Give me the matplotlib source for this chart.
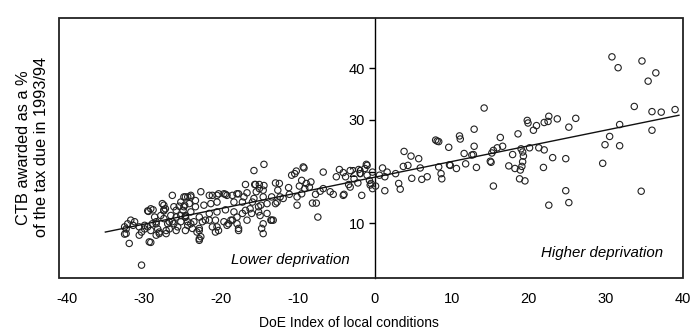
import matplotlib.pyplot as plt
from matplotlib.patches import Rectangle

plt.rcParams['font.family'] = ['Liberation Sans', 'DejaVu Sans']
plt.rcParams['axes.unicode_minus'] = False

# DoE index (x) and CTB as % of tax due (y)
doe_index = [
    # higher deprivation side
    30.8, 31.6, 34.7, 35.5, 36.5, 33.7, 36.0, 37.2, 39.0, 36.0, 31.8, 30.5, 29.9, 31.8, 29.6, 34.6,
    26.1, 23.7, 22.6, 22.5, 22.0, 21.0, 20.6, 19.8, 19.9, 18.6, 14.2, 12.9, 11.0, 11.1, 8.1, 8.3,
    9.6, 11.6, 12.6, 12.9, 12.8, 11.8, 10.6, 9.8, 13.2, 15.1, 15.4, 15.2, 16.3, 16.6, 15.9, 17.9,
    19.0, 19.2, 19.3, 19.2, 17.4, 18.2, 18.9, 19.1, 18.8, 19.5, 15.4, 20.1, 21.3, 22.0, 23.1, 21.9,
    24.8, 24.8, 25.2, 22.6, 25.2, 15.0,
    3.8, 4.7, 5.7, 4.3, 3.7, 5.9, 6.8, 6.1, 4.8, 3.1, 3.3, 2.7, 1.3, 1.0, 1.6, 0.6, 1.3, 0.1, -0.5,
    8.3, 8.6, 8.7, 7.9, 9.7,
    # around zero and just below
    -1.0, -1.7, -9.2, -10.4, -10.2, -6.7, -4.6, -4.1, -3.2, -2.1, -1.9, -5.0, -3.8, -2.7, -1.3, -1.0,
    -0.7, -0.3, -0.3, -0.6, -3.2, -3.4, -4.0, -5.4, -5.8, -6.7, -7.1, -7.7, -7.6, -8.1, -7.4, -8.9,
    -9.1, -8.5, -9.5, -9.8, -8.3, -10.1, -10.1, -9.5, -11.2, -11.1, -12.6, -12.3, -11.9, -12.7, -12.4,
    -13.2, -14.4, -15.7, -9.3, -10.8, -1.1, -2.2, -4.1,
    # dense cluster, -25 to -13
    -16.8, -15.6, -15.0, -12.9, -15.0, -14.5, -15.4, -16.6, -17.9, -17.0, -15.7, -14.5, -13.4, -12.9,
    -14.0, -14.8, -15.9, -17.2, -18.3, -19.2, -19.6, -20.5, -21.5, -22.6, -23.9, -24.8, -20.5, -21.3,
    -22.2, -23.3, -24.1, -24.8, -23.9, -24.6, -22.8, -21.5, -20.5, -19.4, -18.3, -17.2, -16.2, -15.1,
    -14.0, -14.9, -13.5, -16.6, -17.9, -18.7, -19.6, -20.7, -21.5, -22.4, -23.5, -24.3, -22.8, -23.1,
    -22.8, -20.5, -20.7, -19.2, -17.9, -17.7, -14.7, -14.5, -14.5, -23.7, -24.6,
    # lower left, -33 to -24
    -26.3, -24.3, -29.4, -29.1, -27.4, -27.2, -27.4, -26.1, -25.8, -25.4, -24.7, -24.9, -26.5, -25.8,
    -25.2, -24.6, -26.1, -25.2, -24.3, -26.7, -27.4, -27.8, -28.4, -28.6, -28.9, -28.2, -28.0, -28.4,
    -29.5, -29.1, -29.9, -29.9, -30.3, -29.3, -30.6, -31.7, -32.1, -31.4, -32.3, -31.2, -32.5, -31.9,
    -30.3, -26.9, -26.7, -27.1, -25.6,
    # extra reads across the cluster
    -29.5, -28.8, -27.6, -27.4, -25.2, -24.6, -23.9, -23.3, -21.1, -20.3, -19.4, -18.5, -17.7, -15.5,
    -14.4, -32.3, -32.5, -30.6, -28.4, -28.0, -27.1, -26.3, -25.8, -24.6, -23.9, -22.8, -22.6, -22.8,
    -22.0, -21.1, -20.3, -19.0, -18.5, -17.7, -16.0, -15.1, -16.8, -13.4, -29.1,
]
ctb_pct = [
    42.2, 40.1, 41.4, 37.5, 39.1, 32.6, 31.6, 31.5, 32.0, 28.0, 29.1, 26.8, 25.2, 25.0, 21.6, 16.2,
    30.3, 30.2, 30.7, 29.7, 29.5, 28.9, 28.0, 29.9, 29.4, 27.3, 32.3, 28.2, 26.9, 26.3, 25.9, 25.8,
    24.7, 23.5, 23.2, 24.9, 23.3, 21.5, 20.6, 21.2, 20.8, 21.8, 24.1, 23.6, 26.6, 24.9, 24.6, 23.3,
    24.4, 23.8, 23.0, 21.9, 21.1, 20.6, 20.3, 21.0, 18.6, 18.2, 17.2, 24.6, 24.6, 24.2, 22.7, 20.8,
    22.5, 16.3, 14.0, 13.5, 28.6, 22.0,
    23.9, 23.0, 22.5, 21.2, 21.0, 20.7, 19.0, 18.5, 18.7, 17.7, 16.6, 19.6, 16.3, 20.7, 19.9, 19.3, 19.0, 17.2, 17.7,
    20.9, 19.6, 18.6, 26.1, 21.3,
    21.2, 15.4, 20.7, 19.6, 20.1, 19.9, 20.4, 19.8, 20.2, 20.4, 19.6, 19.0, 19.0, 18.6, 20.6, 19.3,
    18.3, 19.9, 16.7, 17.4, 17.0, 17.5, 15.6, 15.6, 16.1, 16.7, 16.2, 15.6, 13.9, 13.9, 11.2, 17.7,
    16.7, 17.0, 18.3, 17.2, 18.0, 15.1, 13.5, 15.7, 16.9, 15.6, 16.4, 15.1, 14.8, 14.1, 17.7,
    10.6, 21.4, 20.2, 20.9, 19.3, 21.4, 17.8, 15.4,
    17.5, 17.5, 17.5, 17.8, 16.7, 16.4, 16.1, 15.9, 15.7, 15.1, 14.8, 15.1, 15.1, 13.8,
    13.8, 13.5, 14.1, 14.1, 14.1, 15.4, 15.7, 15.4, 15.4, 16.1, 15.4, 15.1, 14.1, 13.8,
    13.5, 13.2, 13.8, 13.2, 12.2, 11.2, 11.2, 11.9, 12.2, 12.6, 12.2, 11.9, 12.8, 12.2,
    11.9, 11.5, 10.6, 10.6, 11.2, 10.6, 10.3, 10.6, 10.6, 10.3, 10.3, 9.6, 9.0, 8.3,
    7.0, 9.3, 8.3, 9.6, 9.9, 9.0, 9.0, 8.0, 9.9, 9.0, 8.6,
    15.4, 15.1, 12.3, 12.8, 13.5, 12.8, 12.4, 13.2, 12.5, 13.3, 13.5, 12.5, 11.5, 11.2,
    11.5, 11.5, 9.9, 10.3, 10.3, 10.3, 10.9, 11.5, 10.3, 11.2, 9.9, 8.9, 8.3, 7.7,
    9.3, 8.6, 8.9, 9.6, 8.3, 6.4, 7.7, 10.6, 9.9, 9.6, 8.9, 10.3, 7.9, 6.1,
    1.9, 9.9, 8.9, 8.0, 9.3,
    12.4, 12.6, 13.8, 12.6, 14.1, 15.1, 15.1, 14.4, 15.4, 15.7, 15.6, 15.4, 15.7, 17.5,
    17.3, 8.0, 9.3, 9.3, 9.9, 8.0, 8.6, 10.3, 8.6, 11.2, 9.9, 8.6, 7.4, 6.7,
    10.6, 9.3, 8.6, 9.9, 10.6, 8.6, 11.9, 13.2, 12.5, 10.6, 6.3,
]

# fitted line as printed: end points
fit_x = [-35, 39.5]
fit_y = [8.3, 30.9]

x_ticks = [-40, -30, -20, -10, 0, 10, 20, 30, 40]
y_ticks = [10, 20, 30, 40]

fig = plt.figure(figsize=(6.96, 3.35), dpi=100)
ax = fig.add_axes([0.085, 0.170, 0.896, 0.776])

ax.scatter(doe_index, ctb_pct, s=21, facecolors='none', edgecolors='#222222', linewidths=0.8, zorder=3)
ax.plot(fit_x, fit_y, color='#111111', lw=1.0, zorder=4)

ax.set_xlim(-41, 39.5)
ax.set_ylim(-0.6, 49.7)

# y axis sits on x = 0, the outer frame is drawn separately
for side in ['top', 'right', 'bottom']:
    ax.spines[side].set_visible(False)
ax.spines['left'].set_position(('data', 0))
ax.spines['left'].set_linewidth(1.0)
ax.add_patch(Rectangle((0, 0), 1, 1, transform=ax.transAxes, fill=False,
                       lw=1.3, edgecolor='#222222', clip_on=False, zorder=5))

ax.set_xticks(x_ticks)
ax.set_xticklabels([str(v) for v in x_ticks])
ax.tick_params(axis='x', length=0, pad=10, labelsize=10.5)
ax.set_xticks([0], minor=True)
ax.tick_params(axis='x', which='minor', length=6, width=1.0, direction='out')

ax.set_yticks(y_ticks)
ax.tick_params(axis='y', length=4, width=1.0, pad=3, labelsize=10.5)

ax.set_xlabel("DoE Index of local conditions", fontsize=10)
ax.xaxis.set_label_coords(0.465, -0.145)
fig.text(0.047, 0.56, "CTB awarded as a %\nof the tax due in 1993/94", rotation=90,
         ha='center', va='center', fontsize=11.8, linespacing=1.25)

ax.text(-3.2, 2.8, "Lower deprivation", style='italic', ha='right', va='center', fontsize=10.8)
ax.text(37.4, 4.2, "Higher deprivation", style='italic', ha='right', va='center', fontsize=10.8)

plt.savefig("out.png", dpi=100)
